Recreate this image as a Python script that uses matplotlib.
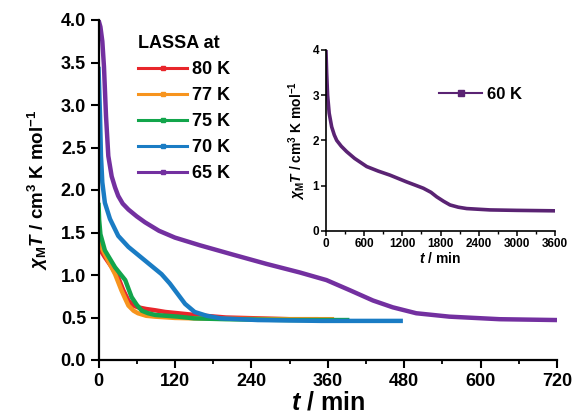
import matplotlib
matplotlib.use("Agg")
from matplotlib import pyplot as plt
from matplotlib.lines import Line2D
from matplotlib.ticker import MultipleLocator, FormatStrFormatter

# Values (t in min, chi_M*T in cm3 K mol-1)
t_80 = [0, 2, 5, 10, 21, 31, 39, 47, 55, 62, 75, 89, 105, 125, 151, 200, 250, 300, 345]
v_80 = [1.38, 1.33, 1.27, 1.21, 1.09, 0.97, 0.82, 0.70, 0.64, 0.62, 0.60, 0.585, 0.565, 0.55, 0.53, 0.50, 0.49, 0.48, 0.48]

t_77 = [0, 2, 5, 15, 26, 36, 42, 47, 55, 62, 75, 89, 120, 150, 200, 300, 370]
v_77 = [1.56, 1.45, 1.32, 1.17, 1.01, 0.82, 0.72, 0.64, 0.58, 0.55, 0.52, 0.51, 0.495, 0.49, 0.485, 0.48, 0.48]

t_75 = [0, 1, 3, 10, 26, 42, 47, 52, 60, 68, 78, 89, 125, 150, 200, 300, 394]
v_75 = [1.85, 1.65, 1.48, 1.29, 1.09, 0.94, 0.84, 0.74, 0.65, 0.58, 0.55, 0.53, 0.51, 0.49, 0.48, 0.47, 0.47]

t_70 = [0, 2.4, 3.9, 6, 10, 18, 31, 47, 73, 99, 112, 120, 128, 136, 151, 170, 192, 250, 350, 478]
v_70 = [3.45, 2.87, 2.40, 2.09, 1.85, 1.66, 1.46, 1.33, 1.17, 1.01, 0.90, 0.82, 0.74, 0.66, 0.565, 0.52, 0.49, 0.47, 0.46, 0.46]

t_65 = [0, 3, 6, 8.6, 11.8, 15.4, 20.7, 26, 31, 38, 47, 60, 73, 95, 120, 159, 211, 264, 316, 358, 395, 431, 462, 499, 551, 630, 720]
v_65 = [4.0, 3.92, 3.75, 3.45, 2.87, 2.40, 2.16, 2.03, 1.93, 1.84, 1.77, 1.69, 1.62, 1.52, 1.44, 1.35, 1.24, 1.13, 1.03, 0.94, 0.82, 0.70, 0.62, 0.55, 0.51, 0.48, 0.47]

t_60 = [0, 10, 25, 50, 89, 130, 168, 240, 325, 450, 640, 820, 1006, 1268, 1400, 1530, 1650, 1740, 1850, 1950, 2080, 2212, 2578, 3000, 3600]
v_60 = [3.96, 3.5, 3.0, 2.6, 2.3, 2.12, 2.0, 1.87, 1.75, 1.6, 1.42, 1.32, 1.23, 1.08, 1.01, 0.94, 0.85, 0.75, 0.65, 0.57, 0.52, 0.49, 0.46, 0.45, 0.44]

labels = ["80 K", "77 K", "75 K", "70 K", "65 K"]
colors = ["#e8262b", "#f7941e", "#12a54b", "#1a7cc4", "#7330a0"]
series = [(t_80, v_80), (t_77, v_77), (t_75, v_75), (t_70, v_70), (t_65, v_65)]

plt.rcParams["font.family"] = ["Liberation Sans", "DejaVu Sans"]
plt.rcParams["font.weight"] = "bold"
plt.rcParams["axes.labelweight"] = "bold"
plt.rcParams["mathtext.fontset"] = "custom"
plt.rcParams["mathtext.rm"] = "Liberation Sans:bold"
plt.rcParams["mathtext.bf"] = "Liberation Sans:bold"
plt.rcParams["mathtext.it"] = "Liberation Sans:italic:bold"

fig = plt.figure(figsize=(5.76, 4.2), dpi=100)
ax = fig.add_axes([98.5 / 576, 1 - 360 / 420, 458.5 / 576, 340 / 420])

for (tt, vv), c in zip(series, colors):
    ax.plot(tt, vv, color=c, lw=3.2, solid_capstyle="butt")

ax.set_xlim(0, 720)
ax.set_ylim(0, 4.0)
ax.xaxis.set_major_locator(MultipleLocator(120))
ax.xaxis.set_minor_locator(MultipleLocator(60))
ax.yaxis.set_major_locator(MultipleLocator(0.5))
ax.yaxis.set_major_formatter(FormatStrFormatter("%.1f"))
for s in ["top", "right"]:
    ax.spines[s].set_visible(False)
for s in ["left", "bottom"]:
    ax.spines[s].set_linewidth(1.6)
ax.tick_params(which="major", length=5.5, width=1.5, labelsize=13, direction="out")
ax.tick_params(which="minor", length=3, width=1.3, direction="out")
for lab in ax.get_xticklabels() + ax.get_yticklabels():
    lab.set_fontweight("bold")
ax.set_xlabel(r"$t$ / min", fontsize=18, fontweight="bold", labelpad=1)
ax.set_ylabel(r"$\chi_{\rm M}T$ / cm$^{3}$ K mol$^{-1}$", fontsize=13.5, fontweight="bold", labelpad=8)

handles = [Line2D([], [], color=c, lw=2.2, marker="s", ms=2.5) for c in colors]
leg = ax.legend(handles, labels, title="LASSA at", loc="upper left",
                bbox_to_anchor=(122 / 576, 1 - 19 / 420), bbox_transform=fig.transFigure,
                frameon=False, fontsize=13, title_fontsize=13, handlelength=2.7,
                handletextpad=0.3, labelspacing=0.5, alignment="left", numpoints=1)
leg.get_title().set_fontweight("bold")
for txt in leg.get_texts():
    txt.set_fontweight("bold")

# Inset: 60 K
ins = fig.add_axes([326 / 576, 1 - 230.7 / 420, 229 / 576, 180.7 / 420])
ins.plot(t_60, v_60, color="#5a2373", lw=2.6)
ins.set_xlim(0, 3600)
ins.set_ylim(0, 4)
ins.xaxis.set_major_locator(MultipleLocator(600))
ins.xaxis.set_minor_locator(MultipleLocator(300))
ins.yaxis.set_major_locator(MultipleLocator(1))
for s in ["top", "right"]:
    ins.spines[s].set_visible(False)
for s in ["left", "bottom"]:
    ins.spines[s].set_linewidth(1.2)
ins.tick_params(which="major", length=3.5, width=1.1, labelsize=8.5, pad=1.5)
ins.tick_params(which="minor", length=2, width=1.0)
for lab in ins.get_xticklabels() + ins.get_yticklabels():
    lab.set_fontweight("bold")
ins.set_xlabel(r"$t$ / min", fontsize=10, fontweight="bold", labelpad=1)
ins.set_ylabel(r"$\chi_{\rm M}T$ / cm$^{3}$ K mol$^{-1}$", fontsize=10, fontweight="bold", labelpad=3)
leg2 = ins.legend([Line2D([], [], color="#5a2373", lw=1.5, marker="s", ms=4.5)], ["60 K"],
                  loc="upper left", bbox_to_anchor=(424 / 576, 1 - 72 / 420),
                  bbox_transform=fig.transFigure, frameon=False, fontsize=12,
                  handlelength=2.6, handletextpad=0.3, numpoints=1)
for txt in leg2.get_texts():
    txt.set_fontweight("bold")

fig.savefig("out.png", dpi=100)
